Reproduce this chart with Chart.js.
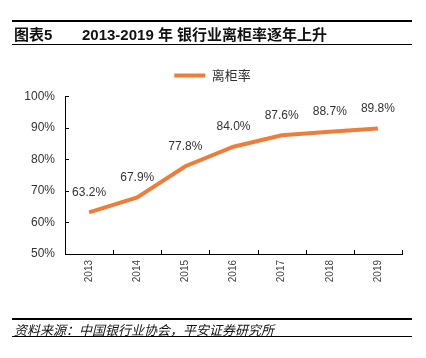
<!DOCTYPE html>
<html>
<head>
<meta charset="utf-8">
<script src="https://cdn.jsdelivr.net/npm/chart.js@4.4.0/dist/chart.umd.min.js"></script>
<style>
  html, body { margin: 0; padding: 0; background: #fff; }
  #wrap { position: relative; width: 426px; height: 358px; overflow: hidden; }
  #chart { position: absolute; left: 0; top: 0; }
  .rule { position: absolute; left: 12px; width: 400px; background: #000; }
  #title { position: absolute; left: 14px; top: 23px; font: bold 15px "Liberation Sans", "Noto Sans CJK SC", sans-serif; color: #111; white-space: nowrap; }
  #title span { display: inline-block; width: 68px; }
  #source { position: absolute; left: 14px; top: 320px; font: italic 13px "Liberation Sans", "Noto Sans CJK SC", sans-serif; color: #111; white-space: nowrap; }
</style>
</head>
<body>
<div id="wrap">
  <canvas id="chart" width="426" height="358"></canvas>
  <div class="rule" style="top:20px;height:2px"></div>
  <div id="title"><span>图表5</span>2013-2019 年 银行业离柜率逐年上升</div>
  <div class="rule" style="top:44px;height:1px"></div>
  <div class="rule" style="top:318px;height:2px"></div>
  <div id="source">资料来源：中国银行业协会，平安证券研究所</div>
  <div class="rule" style="top:336px;height:1px"></div>
</div>
<script>
const years = ["2013", "2014", "2015", "2016", "2017", "2018", "2019"];
const offCounterRate = [63.2, 67.9, 77.8, 84.0, 87.6, 88.7, 89.8];
const yTicks = [50, 60, 70, 80, 90, 100];

const lineColor = "#ef7d3a";
const textFont = '"Liberation Sans", Arial, sans-serif';

// labels above each point + inward tick marks
const extras = {
  id: "extras",
  afterDatasetsDraw(chart) {
    const ctx = chart.ctx;
    const meta = chart.getDatasetMeta(0);
    ctx.save();
    ctx.font = "12px " + textFont;
    ctx.fillStyle = "#333";
    ctx.textAlign = "center";
    ctx.textBaseline = "middle";
    meta.data.forEach((pt, i) => {
      ctx.fillText(offCounterRate[i].toFixed(1) + "%", pt.x, pt.y - 20);
    });

    const x = chart.scales.x;
    const y = chart.scales.y;
    ctx.strokeStyle = "#000";
    ctx.lineWidth = 1;
    ctx.beginPath();
    yTicks.forEach((v) => {
      const py = Math.round(y.getPixelForValue(v)) + 0.5;
      ctx.moveTo(x.left, py);
      ctx.lineTo(x.left + 4, py);
    });
    const step = (x.right - x.left) / years.length;
    for (let i = 1; i <= years.length; i++) {
      const px = Math.round(x.left + step * i) + 0.5;
      ctx.moveTo(px, y.bottom);
      ctx.lineTo(px, y.bottom - 4);
    }
    ctx.stroke();
    ctx.restore();
  },
};

new Chart(document.getElementById("chart"), {
  type: "line",
  data: {
    labels: years,
    datasets: [
      {
        label: "离柜率",
        data: offCounterRate,
        borderColor: lineColor,
        backgroundColor: lineColor,
        borderWidth: 4,
        pointRadius: 0,
        tension: 0,
      },
    ],
  },
  options: {
    responsive: false,
    animation: false,
    layout: { padding: { left: 23, right: 24, top: 59, bottom: 0 } },
    plugins: {
      tooltip: { enabled: false },
      // empty spacer between legend and plot
      subtitle: {
        display: true,
        text: "",
        position: "top",
        weight: 500,
        padding: 0,
        font: { size: 3.5 },
      },
      legend: {
        position: "top",
        labels: {
          usePointStyle: true,
          pointStyle: "line",
          pointStyleWidth: 31,
          boxHeight: 13,
          color: "#333",
          font: { size: 13, family: '"Noto Sans CJK SC", sans-serif' },
          padding: 10,
        },
      },
    },
    scales: {
      x: {
        offset: true,
        grid: { display: false, drawTicks: false },
        border: { display: true, color: "#000", width: 1 },
        ticks: {
          maxRotation: 90,
          minRotation: 90,
          padding: 6,
          color: "#444",
          font: { size: 10, family: textFont },
        },
        afterFit(scale) { scale.height = 104; },
      },
      y: {
        min: 50,
        max: 100,
        grid: { display: false, drawTicks: false },
        border: { display: true, color: "#000", width: 1 },
        ticks: {
          stepSize: 10,
          padding: 10,
          color: "#333",
          font: { size: 12, family: textFont },
          callback: (v) => v + "%",
        },
        afterFit(scale) { scale.width = 42; },
      },
    },
  },
  plugins: [extras],
});
</script>
</body>
</html>
